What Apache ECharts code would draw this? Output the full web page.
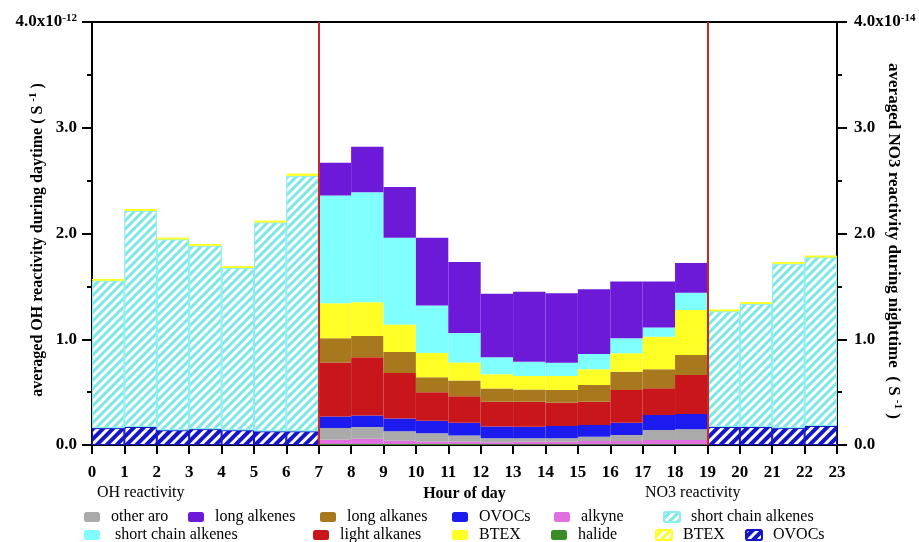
<!DOCTYPE html>
<html>
<head>
<meta charset="utf-8">
<script src="https://cdn.jsdelivr.net/npm/echarts@6/dist/echarts.min.js"></script>
<style>html,body{margin:0;padding:0;background:#fff;}#c{width:919px;height:542px;}</style>
</head>
<body>
<div id="c"></div>
<script>
// ---- data ----
var hours = ['0','1','2','3','4','5','6','7','8','9','10','11','12','13','14','15','16','17','18','19','20','21','22'];
var dayHours = [7,8,9,10,11,12,13,14,15,16,17,18];
var nightHours = [0,1,2,3,4,5,6,19,20,21,22];

// daytime OH reactivity (x1e-12 s-1)
var halide       = [0.01,0.01,0.01,0.01,0.01,0.008,0.008,0.008,0.008,0.008,0.008,0.008];
var alkyne       = [0.04,0.05,0.03,0.02,0.02,0.017,0.022,0.022,0.03,0.03,0.039,0.039];
var otherAro     = [0.11,0.11,0.09,0.08,0.06,0.04,0.033,0.033,0.041,0.057,0.095,0.101];
var ovocsDay     = [0.11,0.11,0.12,0.12,0.12,0.11,0.11,0.117,0.111,0.116,0.142,0.145];
var lightAlkanes = [0.51,0.55,0.43,0.27,0.25,0.235,0.237,0.22,0.22,0.309,0.252,0.369];
var longAlkanes  = [0.23,0.20,0.20,0.14,0.15,0.125,0.116,0.12,0.157,0.173,0.18,0.189];
var btexDay      = [0.33,0.32,0.26,0.23,0.17,0.135,0.126,0.132,0.149,0.174,0.308,0.426];
var shortAlkDay  = [1.02,1.04,0.82,0.45,0.28,0.16,0.136,0.126,0.144,0.142,0.086,0.163];
var longAlkenes  = [0.31,0.43,0.48,0.64,0.67,0.60,0.662,0.656,0.612,0.536,0.435,0.28];

// nighttime NO3 reactivity (x1e-14 s-1)
var ovocsNight    = [0.16,0.17,0.14,0.15,0.14,0.13,0.13,0.17,0.17,0.16,0.18];
var shortAlkNight = [1.395,2.045,1.805,1.735,1.535,1.975,2.415,1.095,1.165,1.555,1.595];
var btexNight     = [0.015,0.015,0.015,0.015,0.015,0.015,0.02,0.015,0.015,0.015,0.015];

var yTicks = ['0.0','1.0','2.0','3.0','4.0x10'];
var leftExp = '-12', rightExp = '-14';

// ---- helpers ----
var FONT = 'Liberation Serif';
function spread(idx, vals) {
  var arr = hours.map(function () { return '-'; });
  idx.forEach(function (h, i) { arr[h] = vals[i]; });
  return arr;
}
function daySeries(name, vals, color) {
  return { name: name, type: 'bar', stack: 'day', xAxisIndex: 0, yAxisIndex: 0,
    barCategoryGap: '0%', barGap: '-100%', data: spread(dayHours, vals),
    itemStyle: { color: color }, emphasis: { disabled: true } };
}
function nightSeries(name, vals, color, border, decal) {
  return { name: name, type: 'bar', stack: 'night', xAxisIndex: 0, yAxisIndex: 1,
    barCategoryGap: '0%', barGap: '-100%', data: spread(nightHours, vals),
    itemStyle: { color: color, borderColor: border, borderWidth: 1, decal: decal },
    emphasis: { disabled: true } };
}
var stripe = function (w, g) {
  return { symbol: 'rect', symbolSize: 1, dashArrayX: [1, 0], dashArrayY: [w, g], rotation: -Math.PI / 4, color: '#ffffff' };
};

var series = [
  daySeries('halide', halide, '#3a8c28'),
  daySeries('alkyne', alkyne, '#e070e0'),
  daySeries('other aro', otherAro, '#aaaaaa'),
  daySeries('OVOCs', ovocsDay, '#1c1cf0'),
  daySeries('light alkanes', lightAlkanes, '#c8161a'),
  daySeries('long alkanes', longAlkanes, '#a8781e'),
  daySeries('BTEX', btexDay, '#ffff26'),
  daySeries(' short chain alkenes', shortAlkDay, '#80ffff'),
  daySeries('long alkenes', longAlkenes, '#6c1ad8'),
  nightSeries('OVOCs ', ovocsNight, '#1414c8', '#1414c8', stripe(3, 4)),
  nightSeries('short chain alkenes', shortAlkNight, '#7fe6e6', '#8ceeee', stripe(3, 3)),
  nightSeries('BTEX ', btexNight, '#ffff26', '#ffff26', stripe(3, 3)),
  { name: 'marks', type: 'line', xAxisIndex: 1, yAxisIndex: 0, data: [],
    markLine: { silent: true, symbol: 'none', label: { show: false },
      lineStyle: { color: '#c8282a', width: 2, type: 'solid' },
      data: [{ xAxis: 7 }, { xAxis: 19 }] } }
];

function legend(name, left, top) {
  return { data: [name], left: left, top: top, padding: 0, itemWidth: 16, itemHeight: 10,
    selectedMode: false,
    textStyle: { fontFamily: FONT, fontSize: 16, color: '#000', padding: [0, 0, 0, 6] } };
}
var legends = [
  legend('other aro', 84, 509),
  legend('long alkenes', 188, 509),
  legend('long alkanes', 320, 509),
  legend('OVOCs', 452, 509),
  legend('alkyne', 554, 509),
  legend('short chain alkenes', 663, 509),
  legend(' short chain alkenes', 84, 527),
  legend('light alkanes', 313, 527),
  legend('BTEX', 452, 527),
  legend('halide', 551, 527),
  legend('BTEX ', 655, 527),
  legend('OVOCs ', 745, 527)
];

function yAxis(pos, exp) {
  return {
    type: 'value', position: pos, min: 0, max: 4, interval: 1,
    axisLine: { show: true, lineStyle: { color: '#000', width: 2 } },
    axisTick: { show: true, length: 10, lineStyle: { color: '#000', width: 2 } },
    minorTick: { show: true, splitNumber: 2, length: 5, lineStyle: { color: '#000', width: 2 } },
    splitLine: { show: false },
    axisLabel: {
      margin: pos === 'left' ? 15 : 17,
      formatter: function (v) {
        var t = yTicks[Math.round(v)];
        return v === 4 ? '{m|' + t + '}{s|' + exp + '}' : '{m|' + t + '}';
      },
      rich: {
        m: { fontFamily: FONT, fontWeight: 'bold', fontSize: 17, color: '#000', lineHeight: 18 },
        s: { fontFamily: FONT, fontWeight: 'bold', fontSize: 11, color: '#000', verticalAlign: 'top', lineHeight: 14 }
      }
    }
  };
}

function nameRich(size) {
  return {
    n: { fontFamily: FONT, fontWeight: 'bold', fontSize: size, fill: '#000', lineHeight: 20 },
    s: { fontFamily: FONT, fontWeight: 'bold', fontSize: 11, fill: '#000', verticalAlign: 'top', lineHeight: 14 }
  };
}

var option = {
  animation: false,
  backgroundColor: '#fff',
  grid: { left: 92, right: 82, top: 22, bottom: 97, containLabel: false, outerBoundsMode: 'none',
    show: true, borderColor: '#000', borderWidth: 2, backgroundColor: 'transparent' },
  legend: legends,
  xAxis: [
    { type: 'category', data: hours, show: false },
    { type: 'value', min: 0, max: 23, interval: 1, position: 'bottom',
      axisLine: { show: true, lineStyle: { color: '#000', width: 2 } },
      axisTick: { show: true, length: 9, lineStyle: { color: '#000', width: 2 } },
      splitLine: { show: false },
      axisLabel: { fontFamily: FONT, fontWeight: 'bold', fontSize: 17, color: '#000', margin: 19 },
      name: 'Hour of day', nameLocation: 'middle', nameGap: 40,
      nameTextStyle: { fontFamily: FONT, fontWeight: 'bold', fontSize: 16, color: '#000' } }
  ],
  yAxis: [ yAxis('left', leftExp), yAxis('right', rightExp) ],
  graphic: [
    { type: 'text', left: 97, top: 485, style: { text: 'OH reactivity', fontFamily: FONT, fontSize: 16, fill: '#000' } },
    { type: 'text', left: 645, top: 485, style: { text: 'NO3 reactivity', fontFamily: FONT, fontSize: 16, fill: '#000' } },
    { type: 'text', x: 38, y: 240, rotation: Math.PI / 2,
      style: { text: '{n|averaged OH reactivity during daytime ( S }{s|-1}{n| )}', rich: nameRich(16),
        align: 'center', verticalAlign: 'middle' } },
    { type: 'text', x: 893, y: 241, rotation: -Math.PI / 2,
      style: { text: '{n|averaged NO3 reactivity during nighttime  ( S }{s|-1}{n| )}', rich: nameRich(17),
        align: 'center', verticalAlign: 'middle' } }
  ],
  series: series
};
var chart = echarts.init(document.getElementById('c'), null, { renderer: 'canvas' });
chart.setOption(option);
</script>
</body>
</html>
